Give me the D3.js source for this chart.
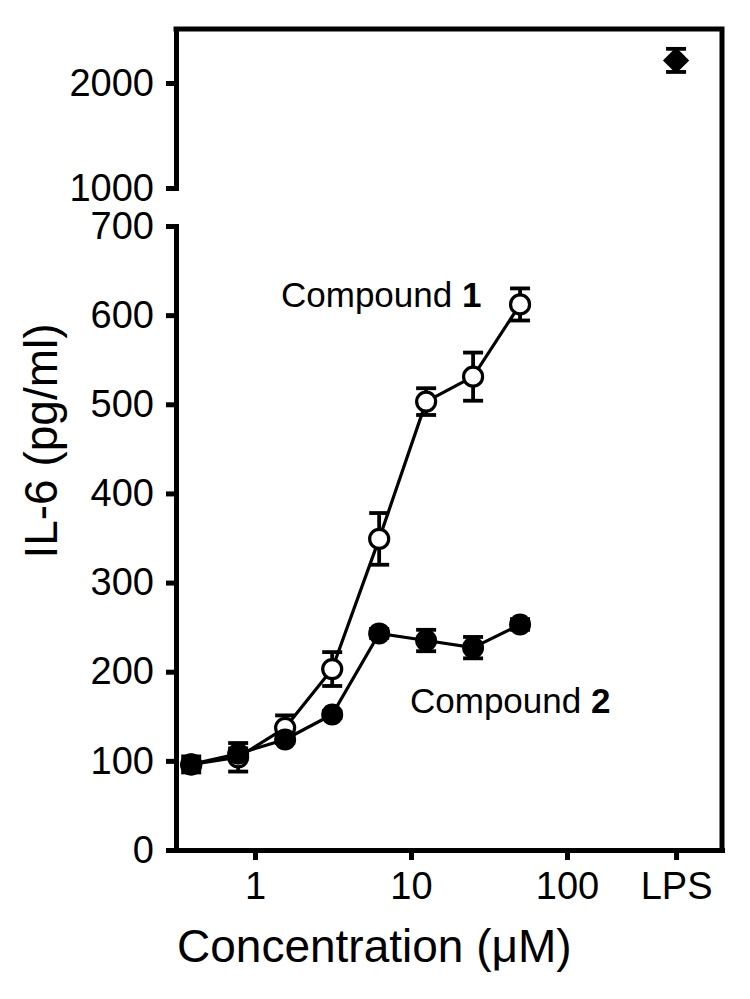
<!DOCTYPE html>
<html>
<head>
<meta charset="utf-8">
<script src="https://cdn.jsdelivr.net/npm/d3@7"></script>
<style>
  body { margin: 0; background: #fff; }
  svg { font-family: "Liberation Sans", Arial, sans-serif; }
</style>
</head>
<body>
<div id="graph"></div>
<script>
//concentrations (uM) of the dilution series
let conc = [0.39, 0.78, 1.56, 3.125, 6.25, 12.5, 25, 50];

//IL-6 means and errors (pg/ml)
let comp1 = [96, 104, 137, 203, 349, 503, 531, 612];
let comp1Err = [5, 16, 14, 19, 29, 15, 27, 18];
let comp2 = [96, 108, 124, 152, 243, 235, 227, 253];
let comp2Err = [9, 6, 4, 4, 5, 12, 12, 6];

//LPS control, drawn at its own slot on the concentration axis
let lpsPos = 500;
let lpsVal = 2215;
let lpsErr = 110;

//tick values
let xTicks = [1, 10, 100, lpsPos];
let yLowTicks = [0, 100, 200, 300, 400, 500, 600, 700];
let yHighTicks = [1000, 2000];

let width = 750, height = 999;
let plotLeft = 176, plotRight = 722, plotTop = 29, plotBottom = 850;

let svg = d3.select("#graph")
    .append("svg")
    .attr("width", width)
    .attr("height", height);

//scales
let x = d3.scaleLog()
    .domain([0.3116, 985])
    .range([plotLeft, plotRight]);

let yLow = d3.scaleLinear()
    .domain([0, 700])
    .range([plotBottom, 226]);

let yHigh = d3.scaleLinear()
    .domain([1000, 2514])
    .range([188, plotTop]);

//frame (top and right)
svg.append("path")
    .attr("d", `M${plotLeft},${plotTop}H${plotRight}V${plotBottom}`)
    .attr("fill", "none")
    .attr("stroke", "#000")
    .attr("stroke-width", 5)
    .attr("stroke-linecap", "square");

//x axis
let xAxis = svg.append("g")
    .attr("transform", `translate(0,${plotBottom})`)
    .call(d3.axisBottom(x)
        .tickValues(xTicks)
        .tickFormat(function(d) { return d === lpsPos ? "LPS" : d; })
        .tickSize(10)
        .tickSizeOuter(0)
        .tickPadding(12));

//lower y axis
let yAxisLow = svg.append("g")
    .attr("transform", `translate(${plotLeft},0)`)
    .call(d3.axisLeft(yLow)
        .tickValues(yLowTicks)
        .tickFormat(d3.format("d"))
        .tickSize(10)
        .tickSizeOuter(0)
        .tickPadding(12));

//upper y axis
let yAxisHigh = svg.append("g")
    .attr("transform", `translate(${plotLeft},0)`)
    .call(d3.axisLeft(yHigh)
        .tickValues(yHighTicks)
        .tickFormat(d3.format("d"))
        .tickSize(10)
        .tickSizeOuter(0)
        .tickPadding(12));

[xAxis, yAxisLow, yAxisHigh].forEach(function(g) {
    g.selectAll(".domain").attr("stroke-width", 5).attr("stroke-linecap", "square");
    g.selectAll(".tick line").attr("stroke-width", 5);
    g.selectAll(".tick text")
        .attr("fill", "#000")
        .style("font-size", "38px");
});

//series
let line = d3.line()
    .x(function(d) { return x(d.c); })
    .y(function(d) { return yLow(d.v); });

function drawSeries(vals, errs, filled) {
    let data = conc.map(function(c, i) { return {c: c, v: vals[i], e: errs[i]}; });
    let g = svg.append("g");

    g.append("path")
        .datum(data)
        .attr("d", line)
        .attr("fill", "none")
        .attr("stroke", "#000")
        .attr("stroke-width", 3.2);

    let err = g.selectAll(".err").data(data).enter().append("g");
    err.append("line")
        .attr("x1", function(d) { return x(d.c); })
        .attr("x2", function(d) { return x(d.c); })
        .attr("y1", function(d) { return yLow(d.v + d.e); })
        .attr("y2", function(d) { return yLow(d.v - d.e); });
    err.append("line")
        .attr("x1", function(d) { return x(d.c) - 10; })
        .attr("x2", function(d) { return x(d.c) + 10; })
        .attr("y1", function(d) { return yLow(d.v + d.e); })
        .attr("y2", function(d) { return yLow(d.v + d.e); });
    err.append("line")
        .attr("x1", function(d) { return x(d.c) - 10; })
        .attr("x2", function(d) { return x(d.c) + 10; })
        .attr("y1", function(d) { return yLow(d.v - d.e); })
        .attr("y2", function(d) { return yLow(d.v - d.e); });
    err.selectAll("line")
        .attr("stroke", "#000")
        .attr("stroke-width", 3.8);

    g.selectAll("circle").data(data).enter()
        .append("circle")
        .attr("cx", function(d) { return x(d.c); })
        .attr("cy", function(d) { return yLow(d.v); })
        .attr("r", filled ? 11 : 9.5)
        .attr("fill", filled ? "#000" : "#fff")
        .attr("stroke", "#000")
        .attr("stroke-width", filled ? 0 : 3.2);
}

drawSeries(comp1, comp1Err, false);
drawSeries(comp2, comp2Err, true);

//LPS point
let lx = x(lpsPos);
let lps = svg.append("g").attr("stroke", "#000").attr("stroke-width", 3.8);
lps.append("line")
    .attr("x1", lx).attr("x2", lx)
    .attr("y1", yHigh(lpsVal + lpsErr)).attr("y2", yHigh(lpsVal - lpsErr));
lps.append("line")
    .attr("x1", lx - 10).attr("x2", lx + 10)
    .attr("y1", yHigh(lpsVal + lpsErr)).attr("y2", yHigh(lpsVal + lpsErr));
lps.append("line")
    .attr("x1", lx - 10).attr("x2", lx + 10)
    .attr("y1", yHigh(lpsVal - lpsErr)).attr("y2", yHigh(lpsVal - lpsErr));
svg.append("path")
    .attr("d", d3.symbol().type(d3.symbolDiamond2).size(440)())
    .attr("transform", `translate(${lx},${yHigh(lpsVal)})`)
    .attr("fill", "#000");

//series labels
let lab1 = svg.append("text")
    .attr("x", 281)
    .attr("y", 307)
    .style("font-size", "35px");
lab1.append("tspan").text("Compound ");
lab1.append("tspan").style("font-weight", "bold").text("1");

let lab2 = svg.append("text")
    .attr("x", 410)
    .attr("y", 713)
    .style("font-size", "35px");
lab2.append("tspan").text("Compound ");
lab2.append("tspan").style("font-weight", "bold").text("2");

//x label
svg.append("text")
    .attr("x", 177)
    .attr("y", 962)
    .style("font-size", "46px")
    .text("Concentration (\u03bcM)");

//y label
svg.append("text")
    .attr("transform", `translate(${57},${441}) rotate(-90)`)
    .style("text-anchor", "middle")
    .style("font-size", "46px")
    .text("IL-6 (pg/ml)");
</script>
</body>
</html>
